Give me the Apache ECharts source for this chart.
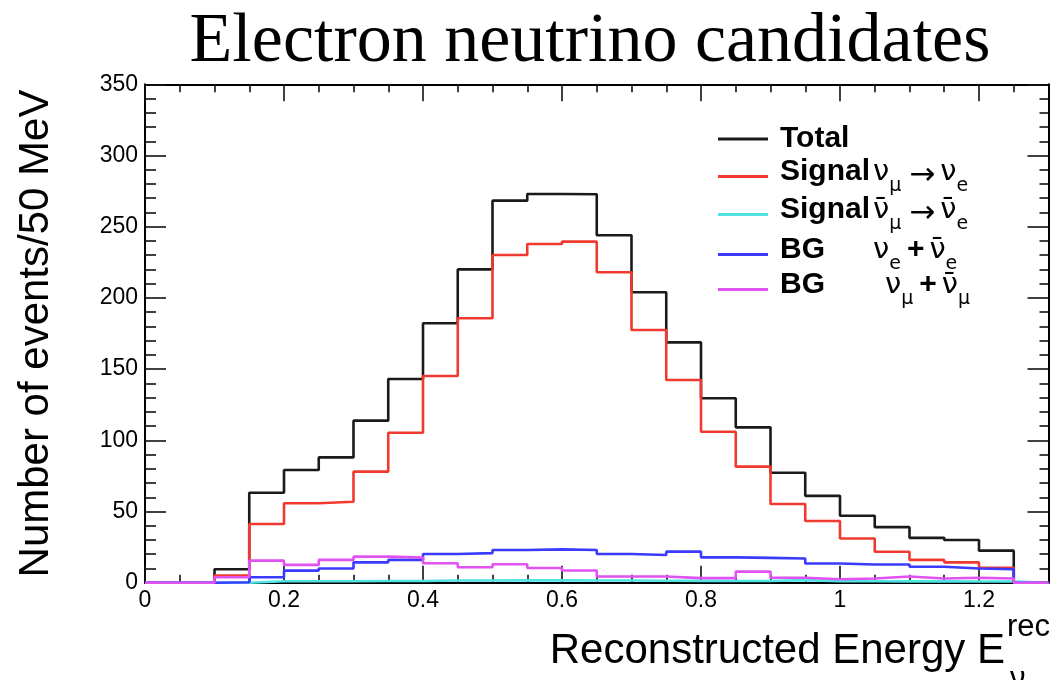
<!DOCTYPE html>
<html>
<head>
<meta charset="utf-8">
<title>Electron neutrino candidates</title>
<script src="https://cdn.jsdelivr.net/npm/echarts@6/dist/echarts.min.js"></script>
<style>
  html, body { margin: 0; padding: 0; background: #ffffff; }
  #chart { width: 1054px; height: 680px; }
</style>
</head>
<body>
<div id="chart"></div>
<script>
// Histogram binning: 50 MeV bins from 0 to 1.3 GeV (lower bin edges)
const binLowEdges = [0.00, 0.05, 0.10, 0.15, 0.20, 0.25, 0.30, 0.35, 0.40, 0.45, 0.50, 0.55, 0.60,
                     0.65, 0.70, 0.75, 0.80, 0.85, 0.90, 0.95, 1.00, 1.05, 1.10, 1.15, 1.20, 1.25];
const histMax = 1.3;

// Events per bin
const total      = [0, 0, 9.4, 63.2, 79.1, 88.0, 113.8, 143.0, 182.2, 220.0, 268.3, 273.0, 272.8,
                    244.0, 204.0, 168.8, 129.5, 109.1, 77.2, 61.0, 47.0, 39.0, 31.5, 30.0, 22.5, 0];
const signalNuE  = [0, 0, 5.0, 41.2, 55.8, 56.9, 78.0, 105.3, 145.2, 185.7, 230.1, 237.9, 239.5,
                    218.0, 177.5, 142.3, 106.0, 81.5, 55.3, 43.3, 31.0, 21.7, 16.0, 14.3, 10.5, 0];
const signalNuEBar = [0, 0, 0, 1.0, 1.0, 1.0, 1.2, 1.2, 1.5, 1.5, 1.6, 1.6, 1.5,
                      1.5, 1.4, 1.3, 1.2, 1.2, 1.8, 1.0, 1.0, 0.9, 0.9, 0.8, 0.8, 0];
const bgNuE      = [0, 0, 0.3, 3.8, 8.5, 10.0, 14.3, 16.0, 20.2, 20.8, 23.0, 23.4, 23.0,
                    20.2, 19.5, 21.8, 17.8, 17.4, 17.0, 13.5, 12.8, 12.8, 11.2, 10.0, 9.4, 0];
const bgNuMu     = [0, 0, 3.8, 15.5, 12.5, 16.0, 18.3, 17.6, 13.7, 10.9, 13.0, 10.3, 8.6,
                    4.4, 4.4, 3.2, 3.2, 7.8, 3.5, 2.4, 3.0, 4.3, 3.0, 3.5, 3.0, 0];

// Axis ticks
const xMajorTicks = [0, 0.2, 0.4, 0.6, 0.8, 1.0, 1.2];
const xMinorTicks = [0.05, 0.1, 0.15, 0.25, 0.3, 0.35, 0.45, 0.5, 0.55, 0.65, 0.7, 0.75,
                     0.85, 0.9, 0.95, 1.05, 1.1, 1.15, 1.25];
const yMin = 0, yMax = 350, yStep = 50;

// Series names (legend keys)
const seriesNames = ['Total', 'SignalNuE', 'SignalNuEBar', 'BGNuE', 'BGNuMu'];
const seriesColors = ['#1a1a1a', '#f03a30', '#4fe3e3', '#3b3bff', '#e052f2'];

// Convert per-bin contents to step-line vertices (left edge of each bin + closing edge)
function histPoints(values) {
  const pts = binLowEdges.map((x, i) => [x, values[i]]);
  pts.push([histMax, 0]);
  return pts;
}

const SANS = 'Liberation Sans, Arial, Helvetica, sans-serif';
const GREEK = 'DejaVu Sans, sans-serif';
const tickFmt = v => String(Number(v.toFixed(2)));

const chart = echarts.init(document.getElementById('chart'), null, { renderer: 'canvas' });

const xBase = {
  type: 'value', min: 0, max: histMax, gridIndex: 0,
  splitLine: { show: false }
};
const yBase = {
  type: 'value', min: yMin, max: yMax, interval: yStep, gridIndex: 0,
  splitLine: { show: false }
};
const axisLineStyle = { color: '#000', width: 2 };
const tickLineStyle = { color: '#111', width: 1.6 };

// Legend rich-text styles
const rich = {
  b:  { fontFamily: SANS, fontWeight: 'bold', fontSize: 30, color: '#000', verticalAlign: 'top' },
  bg: { fontFamily: SANS, fontWeight: 'bold', fontSize: 30, color: '#000', verticalAlign: 'top', width: 93 },
  g:  { fontFamily: GREEK, fontSize: 29, color: '#000', verticalAlign: 'top', padding: [1, 0, 0, 0] },
  gi: { fontFamily: GREEK, fontSize: 29, color: '#000', verticalAlign: 'top', padding: [1, 0, 0, 12] },
  s:  { fontFamily: GREEK, fontSize: 19, color: '#000', verticalAlign: 'top', padding: [20, 0, 0, 0] },
  ar: { fontFamily: GREEK, fontSize: 31, color: '#000', verticalAlign: 'top', padding: [3, 5, 0, 8] },
  pl: { fontFamily: SANS, fontWeight: 'bold', fontSize: 30, color: '#000', verticalAlign: 'top', padding: [0, 5, 0, 6] },
  sp: { fontSize: 10, width: 3 }
};
const NUBAR = 'ν\u0304';
const legendLabels = {
  Total:        '{b|Total}',
  SignalNuE:    '{b|Signal}{sp| }{g|ν}{s|μ}{ar|→}{g|ν}{s|e}',
  SignalNuEBar: '{b|Signal}{sp| }{g|' + NUBAR + '}{s|μ}{ar|→}{g|' + NUBAR + '}{s|e}',
  BGNuE:        '{bg|BG}{g|ν}{s|e}{pl|+}{g|' + NUBAR + '}{s|e}',
  BGNuMu:       '{bg|BG}{gi|ν}{s|μ}{pl|+}{g|' + NUBAR + '}{s|μ}'
};
const legendTops = [124, 157, 195, 235, 270];

const option = {
  animation: false,
  backgroundColor: '#ffffff',
  title: {
    text: 'Electron neutrino candidates',
    left: 590, top: 8, textAlign: 'center', padding: 0,
    textStyle: { fontFamily: 'Liberation Serif, serif', fontWeight: 'normal', fontSize: 70, color: '#000' }
  },
  grid: { left: 145, right: 5.5, top: 84.3, bottom: 97.3, containLabel: false },
  legend: seriesNames.map((name, i) => ({
    data: [name],
    left: 718, top: legendTops[i],
    orient: 'vertical', padding: 0,
    itemWidth: 50, itemHeight: 3, icon: 'rect',
    selectedMode: false,
    formatter: n => legendLabels[n],
    textStyle: { rich: rich, padding: [0, 0, 0, 7] }
  })),
  xAxis: [
    Object.assign({}, xBase, {
      position: 'bottom',
      axisLine: { show: true, onZero: false, lineStyle: axisLineStyle },
      axisTick: { show: true, inside: true, length: 17, customValues: xMajorTicks, lineStyle: tickLineStyle },
      axisLabel: { show: true, customValues: xMajorTicks, formatter: tickFmt, margin: 6,
                   fontFamily: SANS, fontSize: 23, color: '#000' }
    }),
    Object.assign({}, xBase, {
      position: 'bottom',
      axisLine: { show: false, onZero: false },
      axisTick: { show: true, inside: true, length: 8, customValues: xMinorTicks, lineStyle: tickLineStyle },
      axisLabel: { show: false }
    }),
    Object.assign({}, xBase, {
      position: 'top',
      axisLine: { show: true, onZero: false, lineStyle: axisLineStyle },
      axisTick: { show: true, inside: true, length: 17, customValues: xMajorTicks, lineStyle: tickLineStyle },
      axisLabel: { show: false }
    }),
    Object.assign({}, xBase, {
      position: 'top',
      axisLine: { show: false, onZero: false },
      axisTick: { show: true, inside: true, length: 8, customValues: xMinorTicks, lineStyle: tickLineStyle },
      axisLabel: { show: false }
    })
  ],
  yAxis: [
    Object.assign({}, yBase, {
      position: 'left',
      name: 'Number of events/50 MeV',
      nameLocation: 'middle', nameRotate: 90, nameGap: 88,
      nameTextStyle: { fontFamily: SANS, fontSize: 42, color: '#000' },
      axisLine: { show: true, onZero: false, lineStyle: axisLineStyle },
      axisTick: { show: true, inside: true, length: 21, lineStyle: tickLineStyle },
      minorTick: { show: true, splitNumber: 5, length: 11, lineStyle: tickLineStyle },
      axisLabel: { show: true, margin: 7, fontFamily: SANS, fontSize: 23, color: '#000' }
    }),
    Object.assign({}, yBase, {
      position: 'right',
      axisLine: { show: true, onZero: false, lineStyle: axisLineStyle },
      axisTick: { show: true, inside: true, length: 21, lineStyle: tickLineStyle },
      minorTick: { show: true, splitNumber: 5, length: 9, lineStyle: tickLineStyle },
      axisLabel: { show: false }
    })
  ],
  series: [total, signalNuE, signalNuEBar, bgNuE, bgNuMu].map((vals, i) => ({
    name: seriesNames[i],
    type: 'line',
    step: 'end',
    xAxisIndex: 0, yAxisIndex: 0,
    showSymbol: false, symbol: 'none',
    data: histPoints(vals),
    lineStyle: { color: seriesColors[i], width: 2.6 },
    itemStyle: { color: seriesColors[i] },
    emphasis: { disabled: true },
    z: 2 + i
  })),
  graphic: [
    { type: 'text', x: 1005, y: 651,
      style: { text: 'Reconstructed Energy E', fontFamily: SANS, fontSize: 42, fill: '#000',
               align: 'right', verticalAlign: 'middle' } },
    { type: 'text', x: 1007, y: 627,
      style: { text: 'rec', fontFamily: SANS, fontSize: 31, fill: '#000',
               align: 'left', verticalAlign: 'middle' } },
    { type: 'text', x: 1010, y: 679,
      style: { text: 'ν', fontFamily: SANS, fontSize: 31, fill: '#000',
               align: 'left', verticalAlign: 'middle' } }
  ]
};

chart.setOption(option);
</script>
</body>
</html>
